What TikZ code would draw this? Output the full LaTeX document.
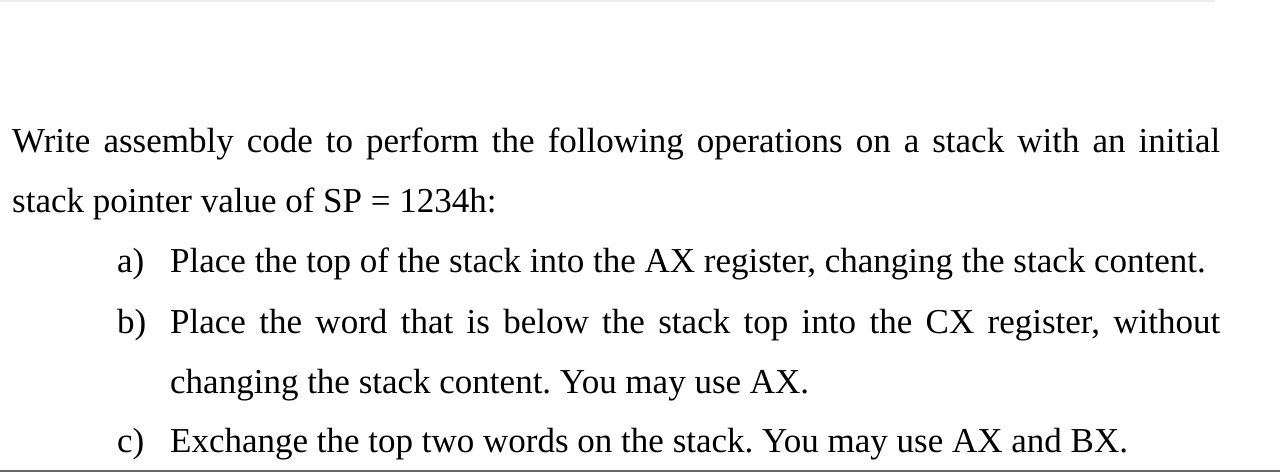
\documentclass[tikz,border=0pt]{standalone}
\usepackage{fontspec}
\setmainfont{Liberation Serif}
\frenchspacing
\begin{document}
\begin{tikzpicture}[x=1pt,y=-1pt,t/.style={anchor=base west,inner sep=0pt,font=\fontsize{35}{40}\selectfont}]
\useasboundingbox[fill=white] (0,0) rectangle (1280,475);
\draw[line width=1.5pt,black!8] (0,1) -- (1215,1);
\draw[line width=1.5pt,black!60] (0,471) -- (1280,471);
\node[t] (l1) at (12,152) {\makebox[1208pt][s]{Write assembly code to perform the following operations on a stack with an initial}};
\node[t] (l2) at (12,212) {stack pointer value of SP = 1234h:};
\node[t] (la) at (117,272) {a)};
\node[t] (ta) at (170,272) {Place the top of the stack into the AX register, changing the stack content.};
\node[t] (lb) at (117,333) {b)};
\node[t] (tb) at (170,333) {\makebox[1050pt][s]{Place the word that is below the stack top into the CX register, without}};
\node[t] (tb2) at (170,393) {changing the stack content. You may use AX.};
\node[t] (lc) at (117,452) {c)};
\node[t] (tc) at (170,452) {Exchange the top two words on the stack. You may use AX and BX.};
\end{tikzpicture}
\end{document}
